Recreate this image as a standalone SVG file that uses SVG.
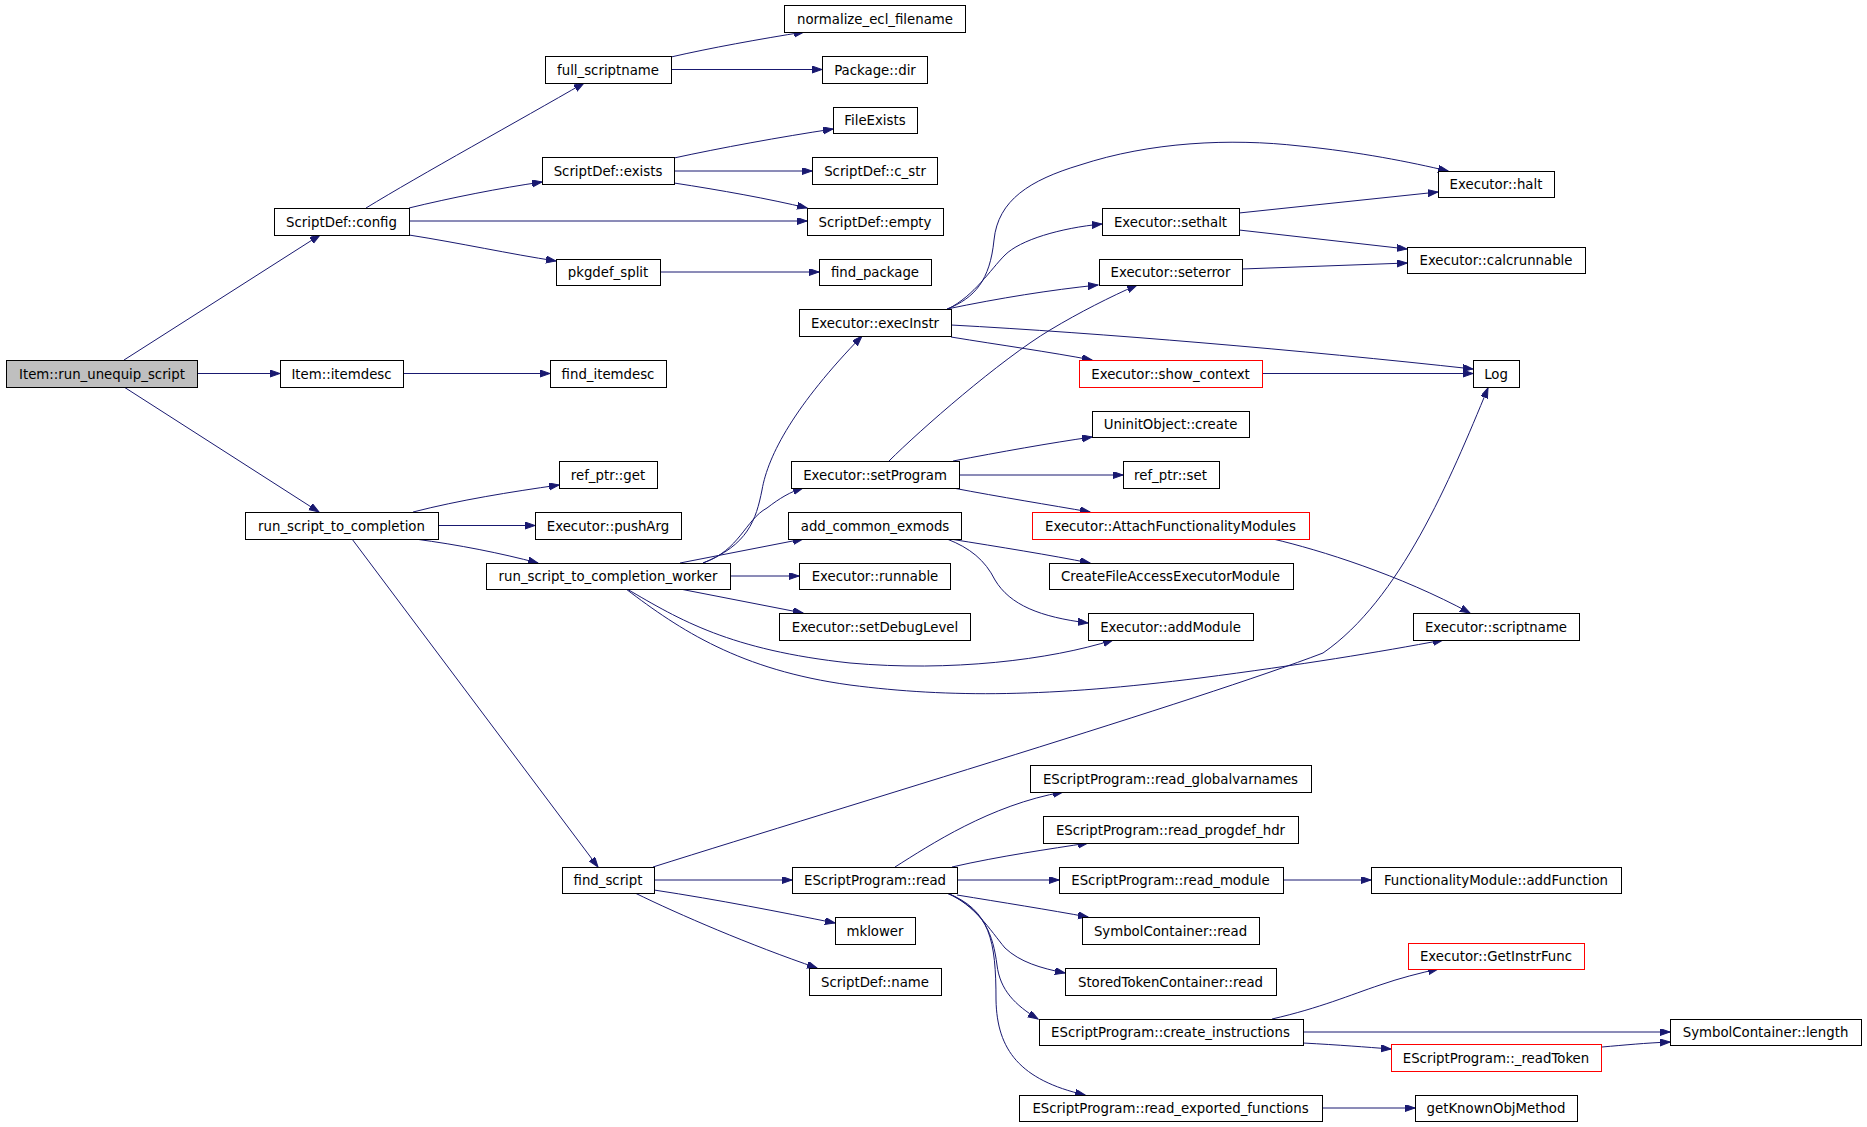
<svg xmlns="http://www.w3.org/2000/svg" width="1867" height="1127" viewBox="0 0 1867 1127">
<style>
.n rect{fill:#fff;stroke:#000;stroke-width:1}
.n.root rect{fill:#bfbfbf}
.n.red rect{stroke:#ff0000}
.n text{font-family:"DejaVu Sans","Liberation Sans",sans-serif;font-size:13.3px;fill:#000;text-anchor:middle}
.e path{fill:none;stroke:#191970;stroke-width:1;marker-end:url(#ah)}
</style>
<defs>
<marker id="ah" markerUnits="userSpaceOnUse" markerWidth="11" markerHeight="8" refX="10" refY="3.5" orient="auto"><path d="M0,0 L10,3.5 L0,7 z" fill="#191970" stroke="#191970" stroke-width="1"/></marker>
</defs>
<rect width="1867" height="1127" fill="#fff"/>
<g id="edges" class="e">
<path d="M124,360 L320,235"/>
<path d="M197,373.5 L280,373.5"/>
<path d="M124,387 L319,512"/>
<path d="M366,208 C420,175 520,120 584,83"/>
<path d="M409,208 C450,198 500,188 542,182"/>
<path d="M409,221 L807,221"/>
<path d="M409,235 C460,243 510,254 556,261"/>
<path d="M671,57 C710,48 760,39 804,32"/>
<path d="M671,69.5 L822,69.5"/>
<path d="M674,158 C720,148 780,137 833,129"/>
<path d="M674,171 L812,171"/>
<path d="M674,183 C720,190 770,199 807,208"/>
<path d="M660,272 L819,272"/>
<path d="M403,373.5 L550,373.5"/>
<path d="M413,512 C460,500 510,492 559,485"/>
<path d="M438,525.5 L535,525.5"/>
<path d="M415,539 C460,545 500,553 538,563"/>
<path d="M352,539 L598,867"/>
<path d="M703,563 C748,545 756,520 762,490 C768,455 795,405 862,336"/>
<path d="M703,563 C740,550 745,520 767,508 C780,498 790,492 803,488"/>
<path d="M680,563 L803,539"/>
<path d="M730,576 L799,576"/>
<path d="M680,589 L803,613"/>
<path d="M627,589 C680,620 730,650 850,663 C950,672 1050,660 1113,640"/>
<path d="M626,589 C680,630 740,670 850,685 C950,698 1050,697 1200,678 C1300,665 1380,652 1443,640"/>
<path d="M947,309 C975,298 990,280 994,240 C998,200 1030,180 1080,165 C1150,142 1230,138 1300,146 C1360,152 1410,162 1448,171"/>
<path d="M948,309 C975,295 990,270 1005,255 C1020,240 1060,228 1102,224"/>
<path d="M947,309 C1000,298 1050,290 1098,285"/>
<path d="M951,325 C1100,333 1300,350 1473,369"/>
<path d="M951,337 C1000,345 1050,352 1092,360"/>
<path d="M1239,213 L1438,192"/>
<path d="M1239,230 L1407,249"/>
<path d="M1242,269 L1407,263"/>
<path d="M1262,373.5 L1473,373.5"/>
<path d="M889,461 C920,430 1000,360 1050,330 C1080,312 1110,297 1137,285"/>
<path d="M953,461 C1000,452 1050,443 1092,437"/>
<path d="M959,475 L1123,475"/>
<path d="M953,488 C1000,497 1050,505 1090,512"/>
<path d="M950,539 C1000,547 1050,555 1090,563"/>
<path d="M947,539 C970,548 985,560 995,580 C1010,605 1040,617 1088,623"/>
<path d="M1273,539 C1320,550 1400,575 1470,613"/>
<path d="M653,867 C850,805 1200,700 1323,653 C1400,600 1450,480 1488,388"/>
<path d="M654,880 L792,880"/>
<path d="M654,890 C720,900 780,912 835,923"/>
<path d="M635,893 C680,915 750,945 817,968"/>
<path d="M895,867 C930,845 990,805 1063,792"/>
<path d="M952,867 C1000,856 1050,849 1088,843"/>
<path d="M957,880 L1059,880"/>
<path d="M957,895 C1000,902 1050,910 1088,917"/>
<path d="M947,893 C975,905 990,930 1005,948 C1020,962 1040,968 1065,973"/>
<path d="M947,893 C985,910 993,935 997,965 C1000,990 1015,1005 1038,1019"/>
<path d="M947,893 C990,910 996,940 996,1000 C997,1050 1020,1080 1085,1095"/>
<path d="M1283,880 L1371,880"/>
<path d="M1272,1019 C1320,1008 1350,995 1380,985 C1400,978 1420,973 1438,969"/>
<path d="M1303,1032 L1670,1032"/>
<path d="M1303,1043 C1340,1045 1365,1047 1391,1049"/>
<path d="M1602,1047 C1625,1045 1645,1043 1670,1042"/>
<path d="M1322,1108 L1415,1108"/>
</g>
<g id="n0" class="n root"><rect x="6.5" y="360.5" width="191" height="27"/><text x="102" y="378.7">Item::run_unequip_script</text></g>
<g id="n1" class="n"><rect x="274.5" y="208.5" width="135" height="27"/><text x="341.5" y="226.7">ScriptDef::config</text></g>
<g id="n2" class="n"><rect x="280.5" y="360.5" width="123" height="27"/><text x="341.5" y="378.7">Item::itemdesc</text></g>
<g id="n3" class="n"><rect x="245.5" y="512.5" width="193" height="27"/><text x="341.5" y="530.7">run_script_to_completion</text></g>
<g id="n4" class="n"><rect x="545.5" y="56.5" width="126" height="27"/><text x="608" y="74.7">full_scriptname</text></g>
<g id="n5" class="n"><rect x="542.5" y="157.5" width="132" height="27"/><text x="608" y="175.7">ScriptDef::exists</text></g>
<g id="n6" class="n"><rect x="807.5" y="208.5" width="136" height="27"/><text x="875" y="226.7">ScriptDef::empty</text></g>
<g id="n7" class="n"><rect x="556.5" y="259.5" width="104" height="26"/><text x="608" y="277.2">pkgdef_split</text></g>
<g id="n8" class="n"><rect x="784.5" y="5.5" width="181" height="27"/><text x="875" y="23.7">normalize_ecl_filename</text></g>
<g id="n9" class="n"><rect x="822.5" y="56.5" width="105" height="27"/><text x="875" y="74.7">Package::dir</text></g>
<g id="n10" class="n"><rect x="833.5" y="107.5" width="84" height="26"/><text x="875" y="125.2">FileExists</text></g>
<g id="n11" class="n"><rect x="812.5" y="157.5" width="125" height="27"/><text x="875" y="175.7">ScriptDef::c_str</text></g>
<g id="n12" class="n"><rect x="819.5" y="259.5" width="112" height="26"/><text x="875" y="277.2">find_package</text></g>
<g id="n13" class="n"><rect x="550.5" y="360.5" width="116" height="27"/><text x="608" y="378.7">find_itemdesc</text></g>
<g id="n14" class="n"><rect x="559.5" y="461.5" width="98" height="27"/><text x="608" y="479.7">ref_ptr::get</text></g>
<g id="n15" class="n"><rect x="535.5" y="512.5" width="146" height="27"/><text x="608" y="530.7">Executor::pushArg</text></g>
<g id="n16" class="n"><rect x="486.5" y="563.5" width="244" height="26"/><text x="608" y="581.2">run_script_to_completion_worker</text></g>
<g id="n17" class="n"><rect x="562.5" y="867.5" width="92" height="26"/><text x="608" y="885.2">find_script</text></g>
<g id="n18" class="n"><rect x="799.5" y="309.5" width="152" height="27"/><text x="875" y="327.7">Executor::execInstr</text></g>
<g id="n19" class="n"><rect x="791.5" y="461.5" width="168" height="27"/><text x="875" y="479.7">Executor::setProgram</text></g>
<g id="n20" class="n"><rect x="788.5" y="512.5" width="173" height="27"/><text x="875" y="530.7">add_common_exmods</text></g>
<g id="n21" class="n"><rect x="799.5" y="563.5" width="151" height="26"/><text x="875" y="581.2">Executor::runnable</text></g>
<g id="n22" class="n"><rect x="779.5" y="613.5" width="191" height="27"/><text x="875" y="631.7">Executor::setDebugLevel</text></g>
<g id="n23" class="n"><rect x="1088.5" y="613.5" width="165" height="27"/><text x="1170.5" y="631.7">Executor::addModule</text></g>
<g id="n24" class="n"><rect x="1413.5" y="613.5" width="166" height="27"/><text x="1496" y="631.7">Executor::scriptname</text></g>
<g id="n25" class="n"><rect x="1438.5" y="171.5" width="116" height="26"/><text x="1496" y="189.2">Executor::halt</text></g>
<g id="n26" class="n"><rect x="1102.5" y="208.5" width="137" height="27"/><text x="1170.5" y="226.7">Executor::sethalt</text></g>
<g id="n27" class="n"><rect x="1099.5" y="259.5" width="143" height="26"/><text x="1170.5" y="277.2">Executor::seterror</text></g>
<g id="n28" class="n"><rect x="1473.5" y="360.5" width="46" height="27"/><text x="1496" y="378.7">Log</text></g>
<g id="n29" class="n red"><rect x="1079.5" y="360.5" width="183" height="27"/><text x="1170.5" y="378.7">Executor::show_context</text></g>
<g id="n30" class="n"><rect x="1407.5" y="247.5" width="178" height="26"/><text x="1496" y="265.2">Executor::calcrunnable</text></g>
<g id="n31" class="n"><rect x="1092.5" y="411.5" width="157" height="26"/><text x="1170.5" y="429.2">UninitObject::create</text></g>
<g id="n32" class="n"><rect x="1123.5" y="461.5" width="96" height="27"/><text x="1170.5" y="479.7">ref_ptr::set</text></g>
<g id="n33" class="n red"><rect x="1032.5" y="512.5" width="277" height="27"/><text x="1170.5" y="530.7">Executor::AttachFunctionalityModules</text></g>
<g id="n34" class="n"><rect x="1049.5" y="563.5" width="244" height="26"/><text x="1170.5" y="581.2">CreateFileAccessExecutorModule</text></g>
<g id="n35" class="n"><rect x="792.5" y="867.5" width="165" height="26"/><text x="875" y="885.2">EScriptProgram::read</text></g>
<g id="n36" class="n"><rect x="835.5" y="917.5" width="80" height="27"/><text x="875" y="935.7">mklower</text></g>
<g id="n37" class="n"><rect x="809.5" y="968.5" width="132" height="27"/><text x="875" y="986.7">ScriptDef::name</text></g>
<g id="n38" class="n"><rect x="1030.5" y="765.5" width="281" height="27"/><text x="1170.5" y="783.7">EScriptProgram::read_globalvarnames</text></g>
<g id="n39" class="n"><rect x="1043.5" y="816.5" width="255" height="27"/><text x="1170.5" y="834.7">EScriptProgram::read_progdef_hdr</text></g>
<g id="n40" class="n"><rect x="1059.5" y="867.5" width="224" height="26"/><text x="1170.5" y="885.2">EScriptProgram::read_module</text></g>
<g id="n41" class="n"><rect x="1082.5" y="917.5" width="177" height="27"/><text x="1170.5" y="935.7">SymbolContainer::read</text></g>
<g id="n42" class="n"><rect x="1065.5" y="968.5" width="211" height="27"/><text x="1170.5" y="986.7">StoredTokenContainer::read</text></g>
<g id="n43" class="n"><rect x="1039.5" y="1019.5" width="264" height="26"/><text x="1170.5" y="1037.2">EScriptProgram::create_instructions</text></g>
<g id="n44" class="n"><rect x="1019.5" y="1095.5" width="303" height="26"/><text x="1170.5" y="1113.2">EScriptProgram::read_exported_functions</text></g>
<g id="n45" class="n"><rect x="1371.5" y="867.5" width="250" height="26"/><text x="1496" y="885.2">FunctionalityModule::addFunction</text></g>
<g id="n46" class="n red"><rect x="1408.5" y="943.5" width="176" height="26"/><text x="1496" y="961.2">Executor::GetInstrFunc</text></g>
<g id="n47" class="n"><rect x="1670.5" y="1019.5" width="191" height="26"/><text x="1765.5" y="1037.2">SymbolContainer::length</text></g>
<g id="n48" class="n red"><rect x="1391.5" y="1044.5" width="210" height="27"/><text x="1496" y="1062.7">EScriptProgram::_readToken</text></g>
<g id="n49" class="n"><rect x="1415.5" y="1095.5" width="162" height="26"/><text x="1496" y="1113.2">getKnownObjMethod</text></g>
</svg>
